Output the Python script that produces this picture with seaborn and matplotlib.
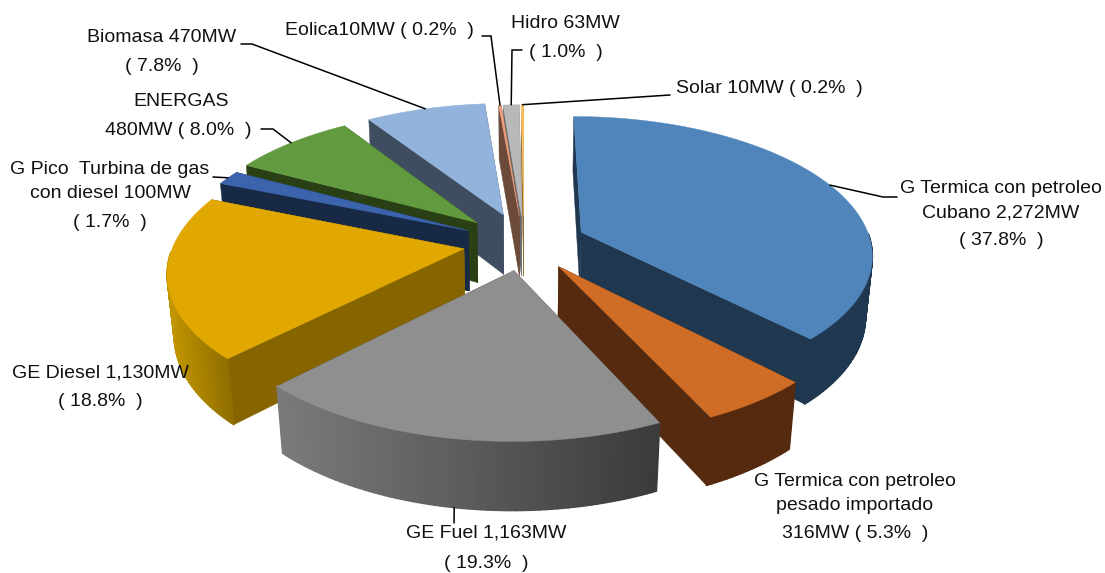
import numpy as np
import matplotlib.pyplot as plt
from matplotlib.collections import PolyCollection
import seaborn as sns

sns.set_theme(style='white')
plt.rcParams['font.family'] = ['Liberation Sans', 'DejaVu Sans']

# clockwise from 12 o'clock, as in the source chart
categories = ['G Termica petroleo Cubano', 'G Termica petroleo importado', 'GE Fuel', 'GE Diesel',
              'G Pico', 'ENERGAS', 'Biomasa', 'Eolica', 'Hidro', 'Solar']
mw_values = [2272, 316, 1163, 1130, 100, 480, 470, 10, 63, 10]

label_lines = [['G Termica con petroleo', 'Cubano 2,272MW', '( 37.8%  )'],
               ['G Termica con petroleo', 'pesado importado', '316MW ( 5.3%  )'],
               ['GE Fuel 1,163MW', '( 19.3%  )'],
               ['GE Diesel 1,130MW', '( 18.8%  )'],
               ['G Pico  Turbina de gas', 'con diesel 100MW', '( 1.7%  )'],
               ['ENERGAS', '480MW ( 8.0%  )'],
               ['Biomasa 470MW', '( 7.8%  )'],
               ['Eolica10MW ( 0.2%  )'],
               ['Hidro 63MW', '( 1.0%  )'],
               ['Solar 10MW ( 0.2%  )']]
# centre of every text line, pixels
label_pos = [[(1001, 188), (1001, 212), (1001, 240)],
             [(855, 481), (855, 505), (855, 533)],
             [(486, 533), (486, 563)],
             [(100, 372), (100, 401)],
             [(110, 169), (110, 193), (110, 222)],
             [(181, 101), (178, 130)],
             [(162, 37), (162, 66)],
             [(379, 30)],
             [(565, 23), (566, 52)],
             [(769, 88)]]

top_colors = ['#4F85BB', '#CF6D27', '#8F8F8F', '#E0A800', '#3B64AD',
              '#629B3F', '#92B4DC', '#F0A080', '#B8B8B8', '#FFC060']
side_colors = ['#1F374F', '#552A0E', '#4A4A4A', '#866500', '#172945',
               '#2A3F14', '#3E4D60', '#6B4A3A', '#6A6A6A', '#8A6A30']
# outer wall shading, left end to right end of the arc
wall_colors = [('#1F374F', '#1F374F'), ('#552A0E', '#552A0E'), ('#7A7A7A', '#3A3A3A'),
               ('#C29600', '#8E6D00'), ('#172945', '#172945'), ('#2A3F14', '#2A3F14'),
               ('#3E4D60', '#3E4D60'), ('#6B4A3A', '#6B4A3A'), ('#6A6A6A', '#6A6A6A'),
               ('#8A6A30', '#8A6A30')]
explode = [0.215, 0.205, 0.2, 0.21, 0.215, 0.225, 0.225, 0.2, 0.2, 0.2]

# leader line elbows, pixels; last point gets added from the slice rim
leaders = {0: [(897, 197), (883, 197)], 2: [(454, 523)], 5: [(261, 129), (273, 129)],
           4: [(213, 177)], 6: [(241, 44), (252, 44)], 7: [(482, 36), (491, 36)],
           8: [(522, 50), (512, 50)], 9: [(670, 95)]}

# projection of the tilted pie
CX, CY = 524, 243
RX, RY = 290, 136
DEPTH = 62
PERSP_Y = 0.15
PERSP_Z = 0.02


def project(x, y, z=0.0):
    p = 1 / (1 + PERSP_Y * y + PERSP_Z * z)
    return CX + RX * x * p, CY - RY * y * p + DEPTH * z * p


def rim(theta, off, z=0.0):
    return project(off[0] + np.sin(theta), off[1] + np.cos(theta), z)


total = sum(mw_values)
edges = np.cumsum([0] + mw_values) / total * 2 * np.pi
mids = (edges[:-1] + edges[1:]) / 2
offsets = [(e * np.sin(m), e * np.cos(m)) for e, m in zip(explode, mids)]

fig = plt.figure(figsize=(11.05, 5.73), dpi=100)
ax = fig.add_axes([0, 0, 1, 1])
ax.set_xlim(0, 1105)
ax.set_ylim(573, 0)
ax.axis('off')

# back slices first
order = sorted(range(len(mw_values)), key=lambda i: -np.cos(mids[i]))
for i in order:
    off = offsets[i]
    thetas = np.linspace(edges[i], edges[i + 1], max(3, int((edges[i + 1] - edges[i]) * 60)))
    top_arc = [rim(t, off) for t in thetas]
    low_arc = [rim(t, off, 1) for t in thetas]
    apex = project(off[0], off[1])
    apex_low = project(off[0], off[1], 1)

    # the two cut faces
    for pt, low in ((top_arc[0], low_arc[0]), (top_arc[-1], low_arc[-1])):
        ax.fill([apex[0], pt[0], low[0], apex_low[0]], [apex[1], pt[1], low[1], apex_low[1]],
                color=side_colors[i], lw=0.3)

    # outer wall in small quads so it can carry the shading
    xs = np.array([pt[0] for pt in top_arc])
    mid_x = (xs[:-1] + xs[1:]) / 2
    ramp = sns.blend_palette(list(wall_colors[i]), 64)
    span = max(np.ptp(xs), 1)
    quads, cols = [], []
    for k in range(len(thetas) - 1):
        # skip the part of the wall that faces away from the viewer
        if np.cos((thetas[k] + thetas[k + 1]) / 2) > -0.02:
            continue
        quads.append([top_arc[k], top_arc[k + 1], low_arc[k + 1], low_arc[k]])
        cols.append(ramp[int((mid_x[k] - xs.min()) / span * 63)])
    ax.add_collection(PolyCollection(quads, facecolors=cols, edgecolors=cols, linewidths=1.2))

    ax.fill([apex[0]] + [p[0] for p in top_arc], [apex[1]] + [p[1] for p in top_arc],
            color=top_colors[i], lw=0.3)

for i, pts in leaders.items():
    anchor = rim(mids[i], offsets[i], 1 if i == 2 else 0)
    ax.plot([p[0] for p in pts] + [anchor[0]], [p[1] for p in pts] + [anchor[1]],
            color='black', lw=1.1, solid_joinstyle='miter')

for lines, spots in zip(label_lines, label_pos):
    for line, (x, y) in zip(lines, spots):
        ax.text(x, y + 5, line, ha='center', va='baseline', fontsize=14, color='#111111')

fig.savefig('out.png', dpi=100)
